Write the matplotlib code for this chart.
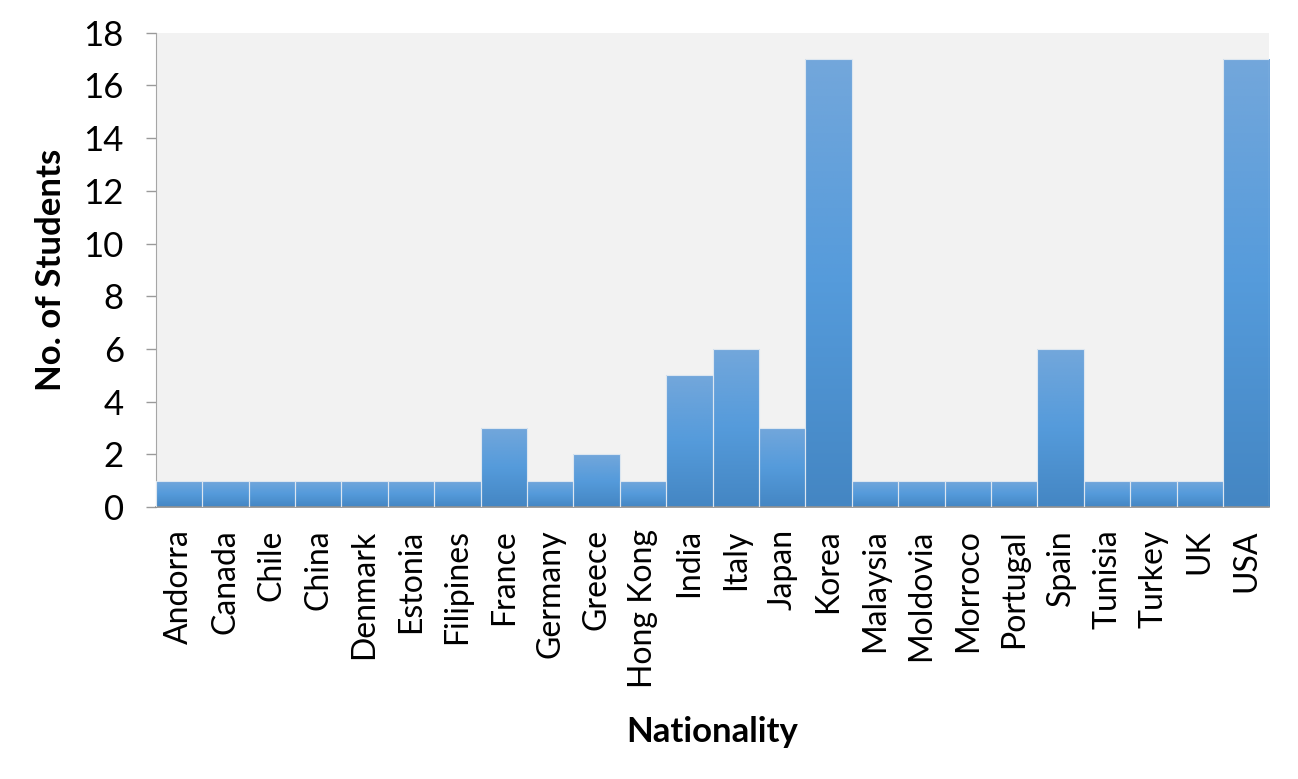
import matplotlib
matplotlib.use('Agg')
import matplotlib.pyplot as plt
import numpy as np
from matplotlib.colors import LinearSegmentedColormap

plt.rcParams['font.family'] = ['Lato', 'DejaVu Sans']

countries = ['Andorra', 'Canada', 'Chile', 'China', 'Denmark', 'Estonia', 'Filipines',
             'France', 'Germany', 'Greece', 'Hong Kong', 'India', 'Italy', 'Japan', 'Korea',
             'Malaysia', 'Moldovia', 'Morroco', 'Portugal', 'Spain', 'Tunisia', 'Turkey',
             'UK', 'USA']
students = [1, 1, 1, 1, 1, 1, 1, 3, 1, 2, 1, 5, 6, 3, 17, 1, 1, 1, 1, 6, 1, 1, 1, 17]

# gradient top -> bottom like the excel fill
grad = LinearSegmentedColormap.from_list('bar', ['#4486C3', '#559BDB', '#73A7DB'])

fig = plt.figure(figsize=(12.98, 7.79), dpi=100)
ax = fig.add_axes([0.120, 0.349, 0.858, 0.609])
ax.set_facecolor('#F2F2F2')

x = np.arange(len(countries))
bars = ax.bar(x, students, width=1.0, facecolor='none', edgecolor='#DCE6F0',
              linewidth=0.8, zorder=3)

g = np.linspace(0, 1, 256).reshape(-1, 1)
for b in bars:
    x0, y0 = b.get_x(), b.get_y()
    w, h = b.get_width(), b.get_height()
    im = ax.imshow(g, cmap=grad, origin='lower', aspect='auto',
                   extent=[x0, x0 + w, y0, y0 + h], zorder=2)
    im.set_clip_path(b)

ax.set_xlim(-0.5, len(countries) - 0.5)
ax.set_ylim(0, 18)
ax.set_yticks(range(0, 19, 2))
ax.set_xticks(x)
ax.set_xticklabels(countries, rotation=90, fontsize=23)
ax.tick_params(axis='x', length=0, pad=16)
ax.tick_params(axis='y', labelsize=25, length=7, width=1, color='#9A9A9A', pad=16)

for s in ['top', 'right']:
    ax.spines[s].set_visible(False)
ax.spines['left'].set_color('#A6A6A6')
ax.spines['bottom'].set_color('#8C8C8C')
ax.spines['bottom'].set_linewidth(1.2)

ax.set_ylabel('No. of Students', fontsize=25, fontweight='bold', labelpad=12)
ax.set_xlabel('Nationality', fontsize=25, fontweight='bold', labelpad=20)

fig.savefig('out.png', dpi=100)
